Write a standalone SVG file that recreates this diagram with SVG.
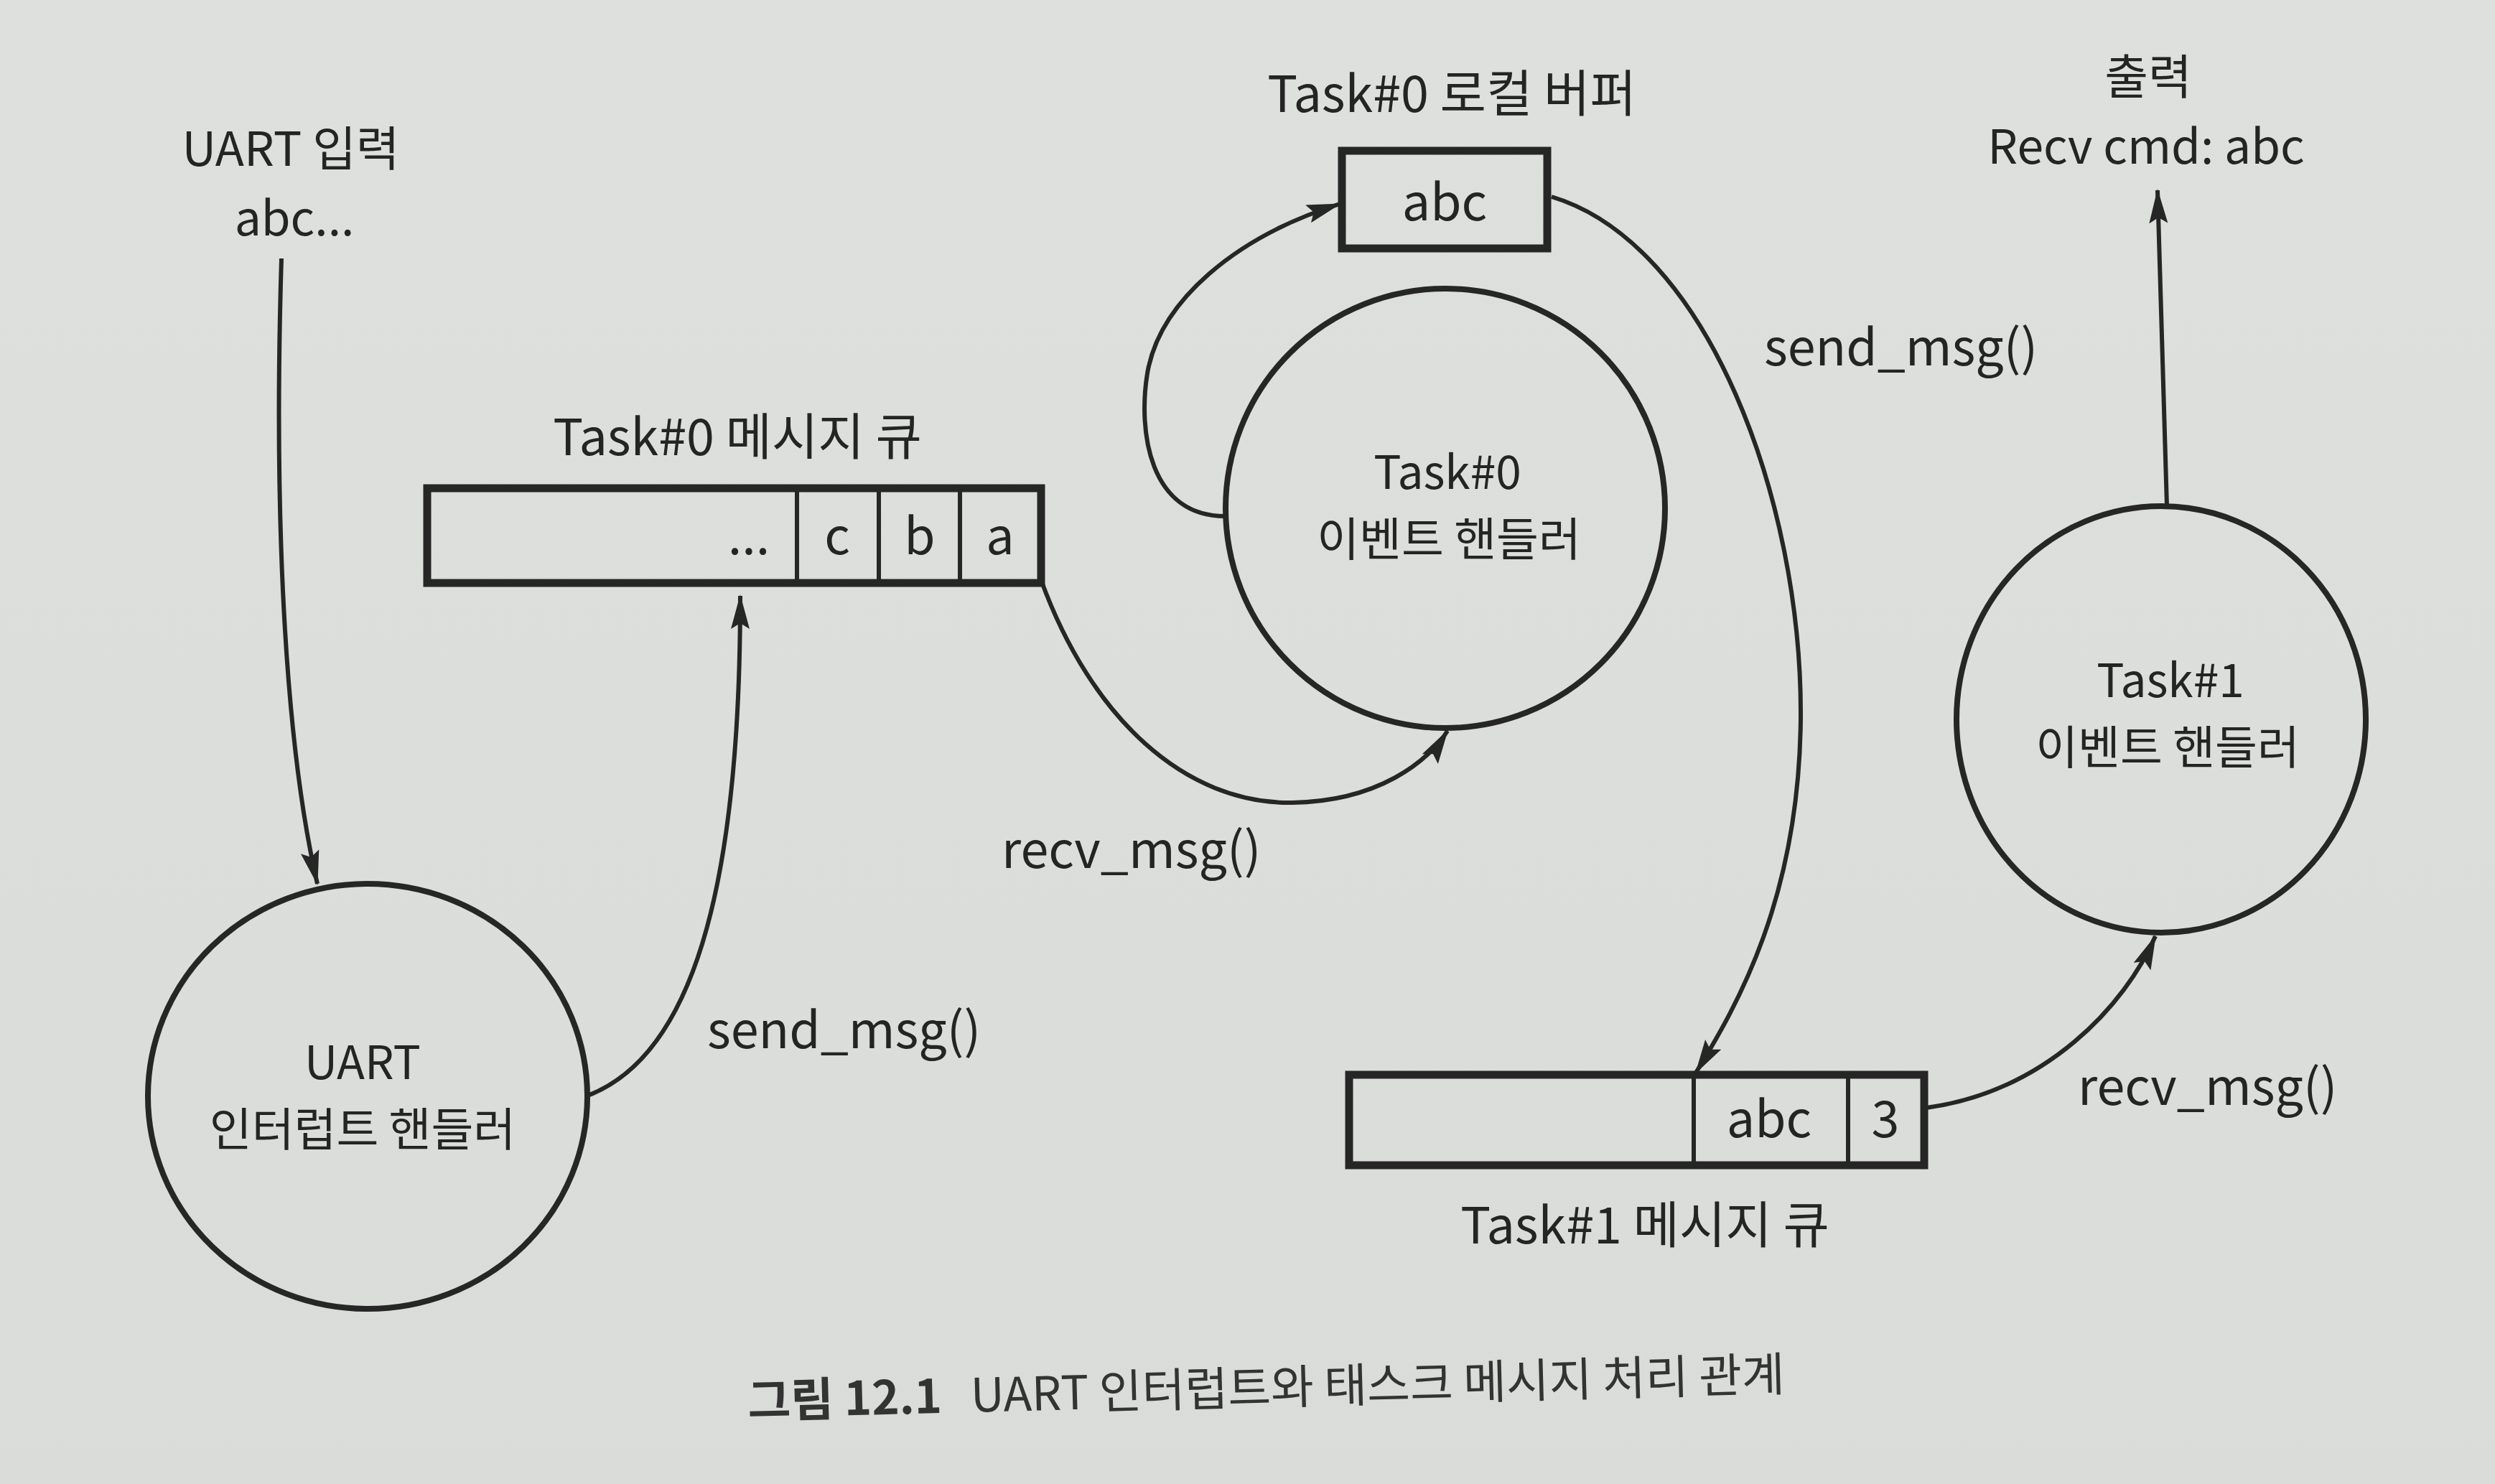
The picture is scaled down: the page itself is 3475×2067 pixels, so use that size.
<svg xmlns="http://www.w3.org/2000/svg" width="3475" height="2067" viewBox="0 0 3475 2067">
<defs>
<style>
.t{font-family:"Noto Sans CJK KR","Noto Sans",sans-serif;font-size:70px;fill:#242424;text-anchor:middle}
.h{font-size:66px}
.n{font-size:64px}
.l{text-anchor:start}
.c{fill:none;stroke:#262626;stroke-width:8}
.b{fill:none;stroke:#262626;stroke-width:11}
.d{fill:none;stroke:#262626;stroke-width:6}
.e{fill:none;stroke:#262626;stroke-width:6}
</style>
<marker id="ah" markerUnits="userSpaceOnUse" markerWidth="48" markerHeight="28" refX="46" refY="14" orient="auto">
<path d="M0,1 L48,14 L0,27 L8,14 z" fill="#262626"/>
</marker>
<linearGradient id="bg" x1="0" y1="0" x2="0" y2="1">
<stop offset="0" stop-color="#dde0dc"/>
<stop offset="1" stop-color="#d9dcd8"/>
</linearGradient>
</defs>
<rect width="3475" height="2067" fill="url(#bg)"/>

<g id="uart-input">
<text class="t h" x="405" y="231">UART 입력</text>
<text class="t h" x="410" y="328">abc...</text>
</g>

<g id="uart-handler">
<ellipse class="c" cx="512" cy="1527" rx="306" ry="296"/>
<text class="t n" x="505" y="1503">UART</text>
<text class="t n" x="505" y="1596">인터럽트 핸들러</text>
</g>

<g id="task0-queue">
<text class="t" x="1027" y="634">Task#0 메시지 큐</text>
<rect class="b" x="595" y="680" width="855" height="132"/>
<line class="d" x1="1110" y1="680" x2="1110" y2="812"/>
<line class="d" x1="1224" y1="680" x2="1224" y2="812"/>
<line class="d" x1="1337" y1="680" x2="1337" y2="812"/>
<text class="t" x="1043" y="772">...</text>
<text class="t" x="1166" y="772">c</text>
<text class="t" x="1281" y="772">b</text>
<text class="t" x="1393" y="772">a</text>
</g>

<g id="task0-buffer">
<text class="t" x="2022" y="156">Task#0 로컬 버퍼</text>
<rect class="b" x="1869" y="210" width="286" height="136"/>
<text class="t" x="2012" y="307">abc</text>
</g>

<g id="task0-handler">
<circle class="c" cx="2013" cy="708" r="306"/>
<text class="t n" x="2016" y="681">Task#0</text>
<text class="t n" x="2018" y="774">이벤트 핸들러</text>
</g>

<g id="output">
<text class="t h" x="2992" y="131">출력</text>
<text class="t h" x="2989" y="228">Recv cmd: abc</text>
</g>

<g id="task1-handler">
<ellipse class="c" cx="3010" cy="1002" rx="285" ry="297"/>
<text class="t n" x="3023" y="971">Task#1</text>
<text class="t n" x="3019" y="1064">이벤트 핸들러</text>
</g>

<g id="task1-queue">
<rect class="b" x="1879" y="1497" width="801" height="126"/>
<line class="d" x1="2359" y1="1497" x2="2359" y2="1623"/>
<line class="d" x1="2574" y1="1497" x2="2574" y2="1623"/>
<text class="t" x="2464" y="1584">abc</text>
<text class="t" x="2626" y="1584">3</text>
<text class="t" x="2291" y="1732">Task#1 메시지 큐</text>
</g>

<g id="connectors">
<path class="e" marker-end="url(#ah)" d="M392,360 C380,750 400,1050 442,1231"/>
<path class="e" marker-end="url(#ah)" d="M821,1525 C960,1470 1031,1250 1031,830"/>
<path class="e" marker-end="url(#ah)" d="M1450,808 C1520,1000 1650,1120 1800,1118 C1920,1116 1990,1060 2016,1018"/>
<path class="e" marker-end="url(#ah)" d="M1708,719 C1600,720 1585,600 1598,520 C1615,420 1720,330 1866,284"/>
<path class="e" marker-end="url(#ah)" d="M2161,274 C2380,340 2510,700 2508,1000 C2506,1250 2420,1400 2362,1494"/>
<path class="e" marker-end="url(#ah)" d="M2683,1543 C2850,1520 2960,1400 3002,1304"/>
<path class="e" marker-end="url(#ah)" d="M3018,705 L3005,265"/>
</g>

<g id="labels">
<text class="t l" x="985" y="1460">send_msg()</text>
<text class="t l" x="1395" y="1209">recv_msg()</text>
<text class="t l" x="2457" y="509">send_msg()</text>
<text class="t l" x="2894" y="1539">recv_msg()</text>
</g>

<g id="caption">
<text class="t l" x="1042" y="1975" transform="rotate(-1.5 1042 1975)" style="font-size:65px;fill:#333"><tspan font-weight="bold">그림 12.1</tspan><tspan dx="40">UART 인터럽트와 태스크 메시지 처리 관계</tspan></text>
</g>
</svg>
